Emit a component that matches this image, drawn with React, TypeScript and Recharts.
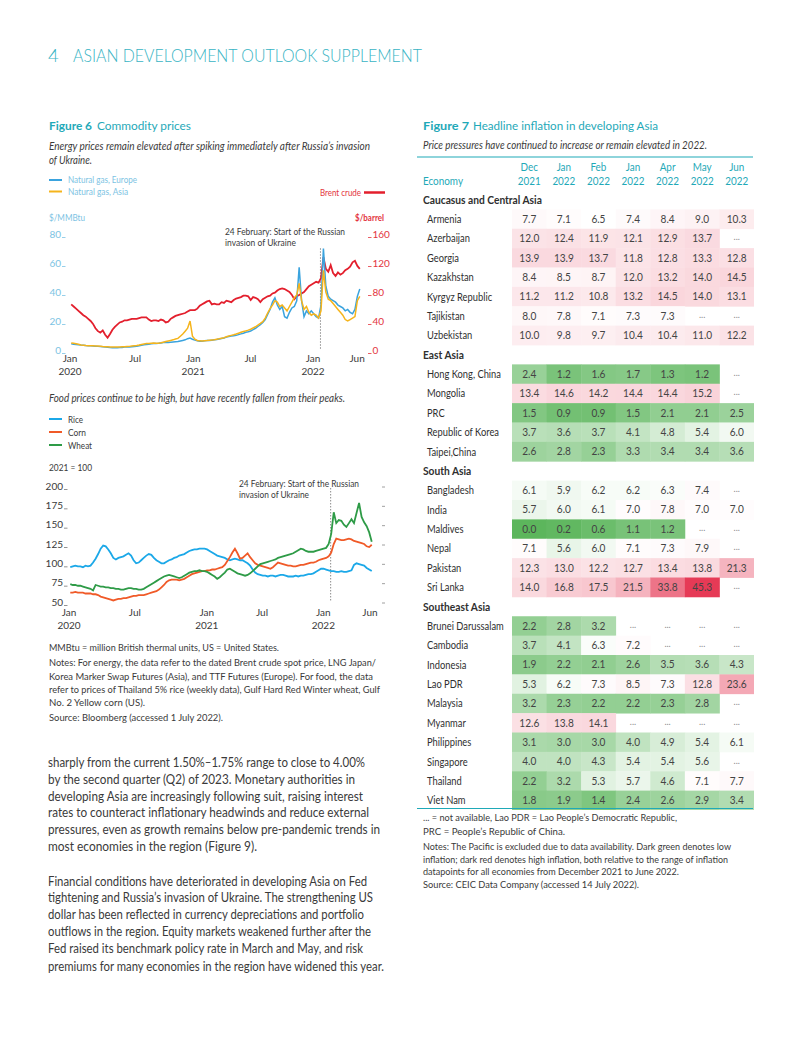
import React from 'react';
import { LineChart, Line, XAxis, YAxis, ReferenceLine, ScatterChart, Scatter } from 'recharts';

const FONT = 'Lato, "Noto Sans", sans-serif';
const TEAL = '#1fa9b8';
const HEAD_TEAL = '#38b4c4';
const TEXT = '#3a3a3a';
const GAS_EU = '#3aa3de';
const GAS_ASIA = '#f5b41c';
const BRENT = '#e31f2d';
const RICE = '#1ba8e8';
const CORN = '#f05a28';
const WHEAT = '#2e9b47';
const AXIS_BLUE = '#7cc3e3';
const AXIS_RED = '#e3343e';

// ---- Figure 6 data: weekly readings, 4 per month, Jan 2020 – Jun 2022 ----
const brentCrude = [
  // 2020
  63, 60, 57, 54, 51, 48, 46, 43, 40, 36, 30, 26, 24, 27, 21, 17, 22, 28, 32, 35, 38, 39, 41, 41,
  42, 43, 43, 43, 44, 45, 45, 45, 42, 40, 41, 41, 40, 42, 41, 38, 39, 43, 45, 47, 48, 49, 50, 51,
  // 2021
  53, 55, 55, 55, 57, 61, 63, 65, 67, 68, 63, 64, 63, 63, 66, 65, 68, 67, 66, 69, 71, 72, 73, 75,
  75, 74, 69, 73, 72, 70, 66, 70, 72, 74, 75, 78, 79, 82, 84, 85, 84, 82, 80, 76, 70, 74, 76, 78,
  // 2022
  80, 84, 88, 90, 92, 94, 93, 99, 128, 112, 108, 117, 106, 102, 107, 104, 106, 110, 112, 115, 121, 123, 116, 112,
];
const gasEurope = [
  // 2020
  4.3, 4.0, 3.8, 3.6, 3.4, 3.3, 3.1, 3.0, 2.9, 2.7, 2.6, 2.5, 2.4, 2.2, 2.0, 1.9, 1.7, 1.6, 1.5, 1.6, 1.7, 1.8, 2.0, 2.1,
  2.0, 2.2, 2.4, 2.6, 2.9, 3.2, 3.6, 3.8, 4.0, 4.3, 4.5, 4.4, 4.6, 4.9, 5.2, 5.3, 5.1, 5.3, 5.5, 5.7, 5.8, 6.2, 6.6, 7.0,
  // 2021
  7.8, 8.3, 7.4, 6.8, 6.4, 6.1, 6.0, 6.3, 6.5, 6.6, 6.8, 7.0, 7.2, 7.6, 8.0, 8.3, 8.9, 9.3, 9.6, 9.9, 10.1, 10.6, 11.1, 11.6,
  12.2, 12.6, 13.1, 14.0, 15.0, 16.2, 17.4, 19.0, 21.0, 24.5, 28.0, 33.0, 36.0, 31.0, 28.0, 30.0, 23.0, 22.0, 26.0, 29.0, 30.0, 34.0, 57.0, 34.0,
  // 2022
  23.0, 27.0, 25.0, 27.0, 25.0, 23.0, 22.0, 31.0, 70.0, 44.0, 37.0, 35.0, 34.0, 33.0, 31.0, 30.0, 29.0, 27.0, 28.0, 26.0, 25.0, 28.0, 37.0, 42.0,
];
const gasAsia = [
  // 2020
  4.8, 4.6, 4.3, 3.9, 3.5, 3.3, 3.1, 3.0, 3.0, 2.9, 2.8, 2.7, 2.6, 2.4, 2.3, 2.2, 2.1, 2.0, 2.0, 2.1, 2.1, 2.2, 2.3, 2.4,
  2.5, 2.7, 2.9, 3.1, 3.4, 3.8, 4.2, 4.4, 4.5, 4.7, 4.8, 4.6, 4.7, 5.0, 5.4, 5.8, 6.2, 6.6, 7.0, 7.6, 8.0, 9.5, 11.0, 13.0,
  // 2021
  15.0, 20.0, 9.5, 7.5, 6.6, 6.3, 6.2, 6.4, 6.5, 6.7, 6.9, 7.1, 7.4, 7.7, 8.1, 8.5, 9.1, 9.6, 10.1, 10.5, 11.0, 11.6, 12.2, 12.7,
  13.2, 13.7, 14.3, 15.2, 16.0, 17.2, 18.3, 19.5, 22.0, 25.5, 28.5, 31.0, 34.0, 33.0, 30.0, 31.0, 29.0, 27.0, 30.0, 33.0, 36.0, 38.0, 46.0, 34.0,
  // 2022
  28.0, 30.0, 26.0, 24.0, 25.0, 24.0, 22.0, 27.0, 55.0, 40.0, 35.0, 34.0, 32.0, 30.0, 28.0, 26.0, 24.0, 21.0, 20.0, 21.0, 22.0, 23.0, 34.0, 37.0,
];
const rice = [
  // 2020
  95, 96, 97, 96, 96, 95, 97, 96, 97, 101, 106, 112, 119, 123, 122, 118, 113, 107, 105, 107, 108, 109, 111, 113,
  110, 104, 100, 101, 104, 107, 110, 112, 111, 107, 104, 102, 100, 100, 102, 104, 105, 107, 108, 110, 111, 112, 114, 116,
  // 2021
  117, 118, 118, 119, 119, 119, 118, 116, 114, 112, 110, 109, 108, 107, 105, 104, 105, 106, 105, 104, 104, 102, 100, 97,
  92, 88, 86, 85, 84, 84, 83, 84, 84, 83, 84, 85, 85, 84, 83, 83, 83, 84, 83, 84, 84, 85, 86, 86,
  // 2022
  87, 89, 91, 93, 93, 92, 91, 90, 90, 89, 89, 90, 89, 89, 90, 91, 98, 100, 99, 98, 97, 94, 92, 90,
];
const corn = [
  // 2020
  62, 62, 63, 62, 62, 62, 61, 61, 61, 60, 60, 59, 57, 56, 55, 54, 53, 52, 53, 54, 54, 55, 55, 56,
  57, 58, 58, 59, 59, 59, 60, 61, 62, 63, 64, 66, 69, 72, 76, 78, 79, 79, 79, 78, 79, 80, 82, 84,
  // 2021
  86, 87, 88, 89, 90, 90, 91, 91, 92, 92, 93, 94, 95, 98, 103, 108, 114, 119, 113, 106, 107, 110, 113, 108,
  104, 100, 98, 97, 96, 95, 94, 93, 95, 98, 101, 100, 99, 98, 97, 97, 96, 96, 97, 98, 98, 99, 100, 101,
  // 2022
  101, 102, 104, 105, 106, 107, 109, 114, 125, 132, 131, 130, 130, 131, 132, 131, 129, 128, 127, 126, 125, 122, 121, 124,
];
const wheat = [
  // 2020
  73, 72, 72, 71, 71, 70, 69, 68, 67, 65, 72, 71, 70, 70, 69, 69, 68, 68, 67, 67, 66, 66, 67, 68,
  68, 67, 67, 66, 66, 67, 69, 71, 73, 75, 77, 79, 81, 83, 84, 85, 84, 83, 82, 81, 82, 84, 86, 88,
  // 2021
  89, 90, 90, 91, 90, 90, 89, 87, 85, 83, 80, 82, 85, 88, 92, 93, 91, 89, 87, 86, 85, 84, 85, 87,
  90, 93, 96, 99, 100, 101, 102, 103, 104, 105, 107, 108, 109, 110, 111, 112, 113, 115, 117, 119, 118, 116, 115, 115,
  // 2022
  115, 116, 117, 118, 119, 120, 125, 138, 166, 152, 156, 155, 150, 147, 152, 157, 152, 165, 178, 160, 153, 148, 140, 128,
];

// months since Jan 2020 where the tick labels sit
const energyTicks = [
  { at: 0, month: 'Jan', year: '2020' },
  { at: 6.7, month: 'Jul', year: '' },
  { at: 12.7, month: 'Jan', year: '2021' },
  { at: 18.6, month: 'Jul', year: '' },
  { at: 25.05, month: 'Jan', year: '2022' },
  { at: 29.6, month: 'Jun', year: '' },
];
const foodTicks = [
  { at: 0, month: 'Jan', year: '2020' },
  { at: 6.5, month: 'Jul', year: '' },
  { at: 13.6, month: 'Jan', year: '2021' },
  { at: 19.05, month: 'Jul', year: '' },
  { at: 25.1, month: 'Jan', year: '2022' },
  { at: 29.7, month: 'Jun', year: '' },
];
const gasTicks = [0, 20, 40, 60, 80];
const brentTicks = [0, 40, 80, 120, 160];
const foodTicksY = [50, 75, 100, 125, 150, 175, 200];
const INVASION = 25 + 23 / 28; // 24 February 2022

const weekPos = (i: number) => i / 4 + 0.125;
const energyData = brentCrude.map((v, i) => ({ t: weekPos(i), brent: v, eu: gasEurope[i], asia: gasAsia[i] }));
const foodData = rice.map((v, i) => ({ t: weekPos(i), rice: v, corn: corn[i], wheat: wheat[i] }));

// ---- Figure 7 data ----
const monthHeads = [['Dec', '2021'], ['Jan', '2022'], ['Feb', '2022'], ['Jan', '2022'], ['Apr', '2022'], ['May', '2022'], ['Jun', '2022']];
const caucasusNames = ['Armenia', 'Azerbaijan', 'Georgia', 'Kazakhstan', 'Kyrgyz Republic', 'Tajikistan', 'Uzbekistan'];
const caucasusValues = [
  [7.7, 7.1, 6.5, 7.4, 8.4, 9.0, 10.3],
  [12.0, 12.4, 11.9, 12.1, 12.9, 13.7, null],
  [13.9, 13.9, 13.7, 11.8, 12.8, 13.3, 12.8],
  [8.4, 8.5, 8.7, 12.0, 13.2, 14.0, 14.5],
  [11.2, 11.2, 10.8, 13.2, 14.5, 14.0, 13.1],
  [8.0, 7.8, 7.1, 7.3, 7.3, null, null],
  [10.0, 9.8, 9.7, 10.4, 10.4, 11.0, 12.2],
];
const eastNames = ['Hong Kong, China', 'Mongolia', 'PRC', 'Republic of Korea', 'Taipei,China'];
const eastValues = [
  [2.4, 1.2, 1.6, 1.7, 1.3, 1.2, null],
  [13.4, 14.6, 14.2, 14.4, 14.4, 15.2, null],
  [1.5, 0.9, 0.9, 1.5, 2.1, 2.1, 2.5],
  [3.7, 3.6, 3.7, 4.1, 4.8, 5.4, 6.0],
  [2.6, 2.8, 2.3, 3.3, 3.4, 3.4, 3.6],
];
const southNames = ['Bangladesh', 'India', 'Maldives', 'Nepal', 'Pakistan', 'Sri Lanka'];
const southValues = [
  [6.1, 5.9, 6.2, 6.2, 6.3, 7.4, null],
  [5.7, 6.0, 6.1, 7.0, 7.8, 7.0, 7.0],
  [0.0, 0.2, 0.6, 1.1, 1.2, null, null],
  [7.1, 5.6, 6.0, 7.1, 7.3, 7.9, null],
  [12.3, 13.0, 12.2, 12.7, 13.4, 13.8, 21.3],
  [14.0, 16.8, 17.5, 21.5, 33.8, 45.3, null],
];
const southeastNames = ['Brunei Darussalam', 'Cambodia', 'Indonesia', 'Lao PDR', 'Malaysia', 'Myanmar', 'Philippines', 'Singapore', 'Thailand', 'Viet Nam'];
const southeastValues = [
  [2.2, 2.8, 3.2, null, null, null, null],
  [3.7, 4.1, 6.3, 7.2, null, null, null],
  [1.9, 2.2, 2.1, 2.6, 3.5, 3.6, 4.3],
  [5.3, 6.2, 7.3, 8.5, 7.3, 12.8, 23.6],
  [3.2, 2.3, 2.2, 2.2, 2.3, 2.8, null],
  [12.6, 13.8, 14.1, null, null, null, null],
  [3.1, 3.0, 3.0, 4.0, 4.9, 5.4, 6.1],
  [4.0, 4.0, 4.3, 5.4, 5.4, 5.6, null],
  [2.2, 3.2, 5.3, 5.7, 4.6, 7.1, 7.7],
  [1.8, 1.9, 1.4, 2.4, 2.6, 2.9, 3.4],
];
const regions = [
  { name: 'Caucasus and Central Asia', names: caucasusNames, values: caucasusValues },
  { name: 'East Asia', names: eastNames, values: eastValues },
  { name: 'South Asia', names: southNames, values: southValues },
  { name: 'Southeast Asia', names: southeastNames, values: southeastValues },
];

const tableRows: { label: string; group: boolean }[] = [];
const cells: { col: number; row: number; v: number | null }[] = [];
regions.forEach((r) => {
  tableRows.push({ label: r.name, group: true });
  r.names.forEach((n, k) => {
    const row = tableRows.length;
    tableRows.push({ label: n, group: false });
    r.values[k].forEach((v, col) => cells.push({ col, row, v }));
  });
});
const allVals = cells.map((c) => c.v).filter((v): v is number => v != null);
const VMIN = Math.min(...allVals);
const VMAX = Math.max(...allVals);
const VMID = 6.5;
const GREEN = [92, 182, 92];
const RED = [230, 58, 86];
function mix(c: number[], t: number) {
  const r = Math.round(255 + (c[0] - 255) * t);
  const g = Math.round(255 + (c[1] - 255) * t);
  const b = Math.round(255 + (c[2] - 255) * t);
  return `rgb(${r},${g},${b})`;
}
function cellColor(v: number) {
  if (v <= VMID) return mix(GREEN, (VMID - v) / (VMID - VMIN));
  return mix(RED, (v - VMID) / (VMAX - VMID));
}

const HM_W = 337;
const HM_H = 653;
const HM_YAXIS = 95;
const HM_XAXIS = 33;
const CELL_W = (HM_W - HM_YAXIS) / monthHeads.length;
const CELL_H = (HM_H - HM_XAXIS) / tableRows.length;

// ---- small components ----
function T({ x, y, w, s = 10, c = TEXT, b = false, i = false, a = 'start', wt, children }: any) {
  const extra = w ? { textLength: w, lengthAdjust: 'spacingAndGlyphs' } : {};
  return (
    <text x={x} y={y} fontSize={s} fill={c} fontWeight={wt ?? (b ? 700 : 400)} fontStyle={i ? 'italic' : 'normal'}
      textAnchor={a} fontFamily={FONT} {...extra}>
      {children}
    </text>
  );
}

function TimeTick(props: any) {
  const { x, payload, ticks, base } = props;
  const d = ticks.find((k: any) => Math.abs(k.at - payload.value) < 1e-6);
  if (!d) return <g />;
  return (
    <g>
      <text x={x} y={base} textAnchor="middle" fontSize={10} fill={TEXT} fontFamily={FONT}>{d.month}</text>
      {d.year ? <text x={x} y={base + 13} textAnchor="middle" fontSize={10} fill={TEXT} fontFamily={FONT}>{d.year}</text> : null}
    </g>
  );
}

function SideTick(props: any) {
  const { y, payload, side, color, at, markColor, rightMark } = props;
  const base = y + 3.5;
  if (side === 'left') {
    return (
      <g>
        <text x={at} y={base} textAnchor="end" fontSize={10} fill={color} fontFamily={FONT}>{payload.value}</text>
        <line x1={at + 1} x2={at + 4.5} y1={base} y2={base} stroke={markColor || color} strokeWidth={0.8} />
        {rightMark ? <line x1={rightMark} x2={rightMark + 3} y1={y + 1} y2={y + 1} stroke="#888" strokeWidth={0.8} /> : null}
      </g>
    );
  }
  return (
    <g>
      <line x1={at} x2={at + 3.5} y1={base} y2={base} stroke={color} strokeWidth={0.8} />
      <text x={at + 4.5} y={base} textAnchor="start" fontSize={10} fill={color} fontFamily={FONT}>{payload.value}</text>
    </g>
  );
}

function EnergyChart() {
  return (
    <LineChart width={360} height={156} data={energyData} margin={{ top: 10, right: 0, bottom: 0, left: 0 }}>
      <XAxis type="number" dataKey="t" domain={[0, 30]} ticks={energyTicks.map((d) => d.at)} interval={0}
        axisLine={false} tickLine={false} height={30}
        tick={(p: any) => <TimeTick {...p} ticks={energyTicks} base={137.5} />} />
      <YAxis yAxisId="l" orientation="left" width={30} domain={[0, 80]} ticks={gasTicks} interval={0}
        axisLine={false} tickLine={false}
        tick={(p: any) => <SideTick {...p} side="left" color={AXIS_BLUE} at={21} />} />
      <YAxis yAxisId="r" orientation="right" width={39} domain={[0, 160]} ticks={brentTicks} interval={0}
        axisLine={false} tickLine={false}
        tick={(p: any) => <SideTick {...p} side="right" color={AXIS_RED} at={328} />} />
      <ReferenceLine yAxisId="l" segment={[{ x: INVASION, y: 70 }, { x: INVASION, y: 0 }]}
        stroke="#555" strokeWidth={1} strokeDasharray="1 2" />
      <Line yAxisId="r" dataKey="brent" stroke={BRENT} strokeWidth={1.8} dot={false} isAnimationActive={false} type="linear" />
      <Line yAxisId="l" dataKey="eu" stroke={GAS_EU} strokeWidth={1.5} dot={false} isAnimationActive={false} type="linear" />
      <Line yAxisId="l" dataKey="asia" stroke={GAS_ASIA} strokeWidth={1.5} dot={false} isAnimationActive={false} type="linear" />
    </LineChart>
  );
}

function FoodChart() {
  return (
    <LineChart width={360} height={158} data={foodData} margin={{ top: 10, right: 27, bottom: 0, left: 0 }}>
      <XAxis type="number" dataKey="t" domain={[0, 30]} ticks={foodTicks.map((d) => d.at)} interval={0}
        axisLine={false} tickLine={false} height={32}
        tick={(p: any) => <TimeTick {...p} ticks={foodTicks} base={139.5} />} />
      <YAxis type="number" width={29} domain={[50, 200]} ticks={foodTicksY} interval={0}
        axisLine={false} tickLine={false}
        tick={(p: any) => <SideTick {...p} side="left" color={TEXT} markColor="#777" at={23} rightMark={342} />} />
      <ReferenceLine segment={[{ x: INVASION, y: 197 }, { x: INVASION, y: 50 }]}
        stroke="#555" strokeWidth={1} strokeDasharray="1 2" />
      <Line dataKey="rice" stroke={RICE} strokeWidth={1.8} dot={false} isAnimationActive={false} type="linear" />
      <Line dataKey="corn" stroke={CORN} strokeWidth={1.8} dot={false} isAnimationActive={false} type="linear" />
      <Line dataKey="wheat" stroke={WHEAT} strokeWidth={1.8} dot={false} isAnimationActive={false} type="linear" />
    </LineChart>
  );
}

function HeadTick(props: any) {
  const { x, payload } = props;
  const h = monthHeads[payload.value];
  if (!h) return <g />;
  return (
    <g fontFamily={FONT} fontSize={11} fill={TEAL}>
      <text transform={`translate(${x},14) scale(0.9,1)`} textAnchor="middle">{h[0]}</text>
      <text transform={`translate(${x},28) scale(0.9,1)`} textAnchor="middle">{h[1]}</text>
    </g>
  );
}

function RowTick(props: any) {
  const { y, payload } = props;
  const r = tableRows[payload.value];
  if (!r) return <g />;
  return (
    <text transform={`translate(${r.group ? 6 : 10},${y + 4}) scale(${r.group ? 0.93 : 0.85},1)`}
      fontSize={11} fontWeight={r.group ? 700 : 400} fill="#2f2f2f" fontFamily={FONT}>
      {r.label}
    </text>
  );
}

function CellShape(props: any) {
  const { cx, cy, payload } = props;
  const v = payload.v;
  if (v == null) {
    return <text x={cx} y={cy + 2} textAnchor="middle" fontSize={9} fill="#8c8c8c" fontFamily={FONT}>...</text>;
  }
  return (
    <g>
      <rect x={cx - CELL_W / 2} y={cy - CELL_H / 2} width={CELL_W + 0.4} height={CELL_H + 0.4} fill={cellColor(v)} />
      <text transform={`translate(${cx},${cy + 3.8}) scale(0.92,1)`} textAnchor="middle" fontSize={11}
        fill="#444" fontFamily={FONT}>
        {v.toFixed(1)}
      </text>
    </g>
  );
}

function InflationTable() {
  return (
    <ScatterChart width={HM_W} height={HM_H} margin={{ top: 0, right: 0, bottom: 0, left: 0 }}>
      <XAxis type="number" dataKey="col" orientation="top" domain={[-0.5, monthHeads.length - 0.5]}
        ticks={monthHeads.map((_, i) => i)} interval={0} height={HM_XAXIS} axisLine={false} tickLine={false}
        tick={(p: any) => <HeadTick {...p} />} />
      <YAxis type="number" dataKey="row" reversed domain={[-0.5, tableRows.length - 0.5]}
        ticks={tableRows.map((_, i) => i)} interval={0} width={HM_YAXIS} axisLine={false} tickLine={false}
        tick={(p: any) => <RowTick {...p} />} />
      <Scatter data={cells} isAnimationActive={false} shape={(p: any) => <CellShape {...p} />} />
    </ScatterChart>
  );
}

export default function App() {
  return (
    <div style={{ position: 'absolute', left: 0, top: 0, width: 802, height: 1037, background: '#fff', overflow: 'hidden', fontFamily: FONT }}>
      <div style={{ position: 'absolute', left: 40, top: 224 }}><EnergyChart /></div>
      <div style={{ position: 'absolute', left: 40, top: 476 }}><FoodChart /></div>
      <div style={{ position: 'absolute', left: 417, top: 157 }}><InflationTable /></div>
      <svg width={802} height={1037} style={{ position: 'absolute', left: 0, top: 0, pointerEvents: 'none' }}>
        {/* page header */}
        <T x={48} y={62} s={18.5} c={HEAD_TEAL} wt={300}>4</T>
        <T x={73} y={62} w={349} s={18.5} c={HEAD_TEAL} wt={300}>ASIAN DEVELOPMENT OUTLOOK SUPPLEMENT</T>

        {/* Figure 6 */}
        <T x={49} y={129.5} w={43} s={12} c={TEAL} b>Figure 6</T>
        <T x={97} y={129.5} w={94} s={12} c={TEAL}>Commodity prices</T>
        <T x={49} y={149.5} w={321} s={11} i>Energy prices remain elevated after spiking immediately after Russia’s invasion</T>
        <T x={49} y={163.5} w={43} s={11} i>of Ukraine.</T>
        <line x1={49} x2={62} y1={180} y2={180} stroke={GAS_EU} strokeWidth={2} />
        <T x={68} y={183} w={69} s={9.5} c={AXIS_BLUE}>Natural gas, Europe</T>
        <line x1={49} x2={62} y1={191.5} y2={191.5} stroke={GAS_ASIA} strokeWidth={2} />
        <T x={68} y={194.5} w={60} s={9.5} c={AXIS_BLUE}>Natural gas, Asia</T>
        <T x={320} y={195.5} w={41} s={9.5} c={AXIS_RED}>Brent crude</T>
        <line x1={364} x2={385} y1={192.5} y2={192.5} stroke={BRENT} strokeWidth={2.5} />
        <T x={49} y={220.5} w={36} s={10} c={AXIS_BLUE}>$/MMBtu</T>
        <T x={355} y={220.5} w={29} s={10} c={AXIS_RED} b>$/barrel</T>
        <T x={225} y={234.5} w={120} s={10}>24 February: Start of the Russian</T>
        <T x={225} y={245.5} w={71} s={10}>invasion of Ukraine</T>

        <T x={49} y={401.5} w={296} s={11} i>Food prices continue to be high, but have recently fallen from their peaks.</T>
        <line x1={49} x2={62} y1={419} y2={419} stroke={RICE} strokeWidth={2} />
        <T x={68} y={422.5} w={15} s={10}>Rice</T>
        <line x1={49} x2={62} y1={432} y2={432} stroke={CORN} strokeWidth={2} />
        <T x={68} y={435.5} w={18} s={10}>Corn</T>
        <line x1={49} x2={62} y1={445} y2={445} stroke={WHEAT} strokeWidth={2} />
        <T x={68} y={448.5} w={24} s={10}>Wheat</T>
        <T x={49} y={470.5} w={43} s={10}>2021 = 100</T>
        <T x={239} y={486.5} w={120} s={10}>24 February: Start of the Russian</T>
        <T x={239} y={497.5} w={70} s={10}>invasion of Ukraine</T>

        <T x={49} y={651} w={230} s={9.5}>MMBtu = million British thermal units, US = United States.</T>
        <T x={49} y={666} w={327} s={9.5}>Notes: For energy, the data refer to the dated Brent crude spot price, LNG Japan/</T>
        <T x={49} y={680} w={324} s={9.5}>Korea Marker Swap Futures (Asia), and TTF Futures (Europe). For food, the data</T>
        <T x={49} y={692.5} w={331} s={9.5}>refer to prices of Thailand 5% rice (weekly data), Gulf Hard Red Winter wheat, Gulf</T>
        <T x={49} y={705.5} w={96} s={9.5}>No. 2 Yellow corn (US).</T>
        <T x={49} y={720.5} w={174} s={9.5}>Source: Bloomberg (accessed 1 July 2022).</T>

        {/* body text */}
        <T x={48} y={767} w={317} s={13}>sharply from the current 1.50%–1.75% range to close to 4.00%</T>
        <T x={48} y={783.5} w={307} s={13}>by the second quarter (Q2) of 2023. Monetary authorities in</T>
        <T x={48} y={800.5} w={315} s={13}>developing Asia are increasingly following suit, raising interest</T>
        <T x={48} y={817} w={321} s={13}>rates to counteract inflationary headwinds and reduce external</T>
        <T x={48} y={834} w={332} s={13}>pressures, even as growth remains below pre-pandemic trends in</T>
        <T x={48} y={851} w={209} s={13}>most economies in the region (Figure 9).</T>
        <T x={48} y={886} w={319} s={13}>Financial conditions have deteriorated in developing Asia on Fed</T>
        <T x={48} y={902} w={325} s={13}>tightening and Russia’s invasion of Ukraine. The strengthening US</T>
        <T x={48} y={919} w={316} s={13}>dollar has been reflected in currency depreciations and portfolio</T>
        <T x={48} y={936} w={323} s={13}>outflows in the region. Equity markets weakened further after the</T>
        <T x={48} y={953} w={315} s={13}>Fed raised its benchmark policy rate in March and May, and risk</T>
        <T x={48} y={971} w={336} s={13}>premiums for many economies in the region have widened this year.</T>

        {/* Figure 7 */}
        <T x={423} y={129.5} w={46} s={12} c={TEAL} b>Figure 7</T>
        <T x={473} y={129.5} w={185} s={12} c={TEAL}>Headline inflation in developing Asia</T>
        <T x={423} y={148.5} w={284} s={11} i>Price pressures have continued to increase or remain elevated in 2022.</T>
        <line x1={417} x2={753} y1={157} y2={157} stroke={TEAL} strokeWidth={1.2} />
        <T x={423} y={185} w={40} s={11} c={TEAL}>Economy</T>
        <line x1={417} x2={753} y1={808.5} y2={808.5} stroke={TEAL} strokeWidth={1.2} />
        <T x={423} y={821} w={254} s={9.5}>... = not available, Lao PDR = Lao People’s Democratic Republic,</T>
        <T x={423} y={835} w={142} s={9.5}>PRC = People’s Republic of China.</T>
        <T x={423} y={850} w={308} s={9.5}>Notes: The Pacific is excluded due to data availability. Dark green denotes low</T>
        <T x={423} y={862.5} w={305} s={9.5}>inflation; dark red denotes high inflation, both relative to the range of inflation</T>
        <T x={423} y={874.5} w={256} s={9.5}>datapoints for all economies from December 2021 to June 2022.</T>
        <T x={423} y={887.5} w={216} s={9.5}>Source: CEIC Data Company (accessed 14 July 2022).</T>
      </svg>
    </div>
  );
}
